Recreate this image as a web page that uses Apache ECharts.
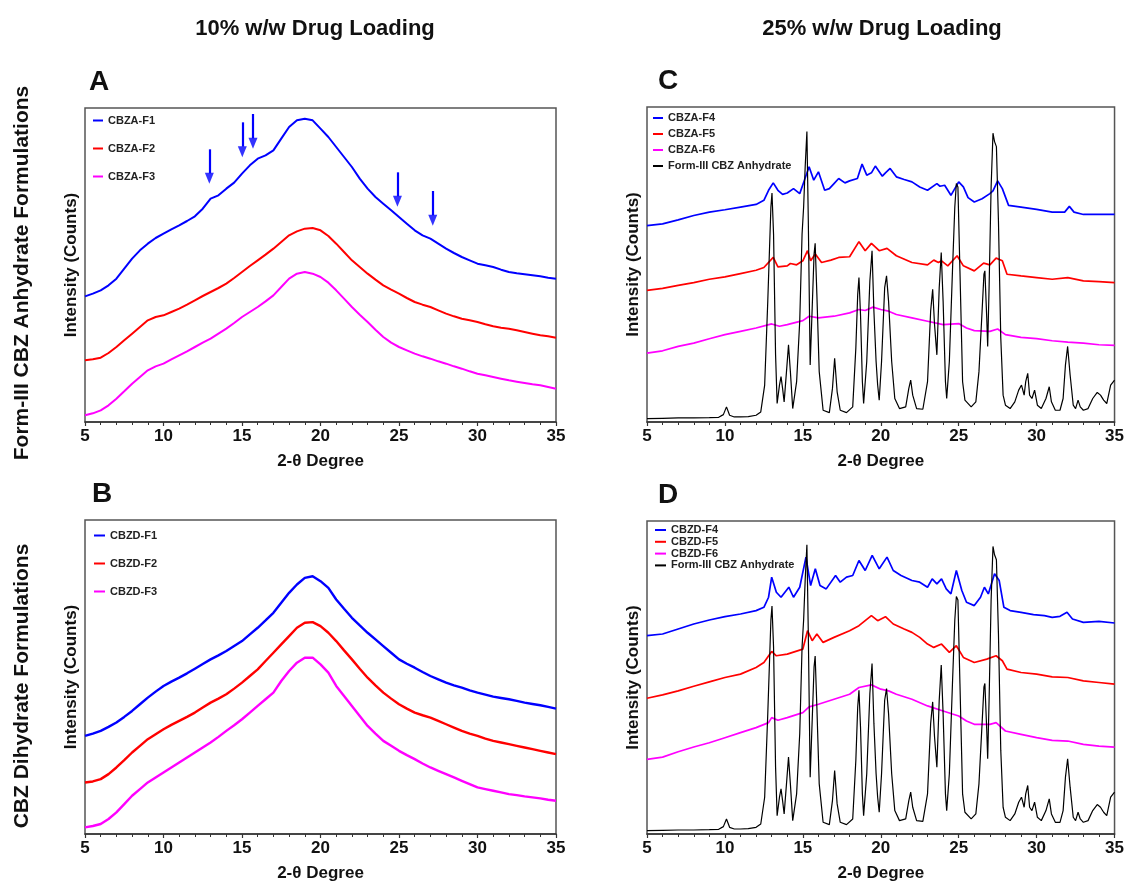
<!DOCTYPE html>
<html>
<head>
<meta charset="utf-8">
<script src="https://cdn.jsdelivr.net/npm/echarts@6/dist/echarts.min.js"></script>
<style>html,body{margin:0;padding:0;background:#fff}#c{width:1127px;height:883px}</style>
</head>
<body>
<div id="c"></div>
<script>
// ---------- DATA (2-theta degree, relative intensity counts) ----------
const xTicks = [5, 10, 15, 20, 25, 30, 35];

const A_F1 = [[5,377],[5.5,385],[6,395],[6.5,410],[7,430],[7.5,460],[8,490],[8.5,515],[9,535],[9.5,552],[10,565],[10.5,578],[11,590],[11.5,603],[12,617],[12.5,640],[13,670],[13.5,680],[14,700],[14.5,718],[15,745],[15.5,770],[16,790],[16.5,800],[17,815],[17.5,850],[18,885],[18.5,905],[19,910],[19.5,905],[20,880],[20.5,855],[21,825],[21.5,795],[22,765],[22.5,730],[23,700],[23.5,675],[24,655],[24.5,635],[25,615],[25.5,595],[26,575],[26.5,560],[27,550],[27.5,535],[28,520],[28.5,507],[29,495],[29.5,485],[30,475],[30.5,470],[31,465],[31.5,457],[32,450],[32.5,446],[33,443],[33.5,440],[34,437],[34.5,433],[35,430]];
const A_F2 = [[5,185],[5.5,188],[6,193],[6.5,207],[7,225],[7.5,245],[8,265],[8.5,285],[9,305],[9.5,315],[10,320],[10.5,330],[11,340],[11.5,352],[12,365],[12.5,378],[13,390],[13.5,402],[14,415],[14.5,432],[15,450],[15.5,468],[16,485],[16.5,502],[17,520],[17.5,540],[18,560],[18.5,572],[19,580],[19.5,582],[20,575],[20.5,558],[21,535],[21.5,510],[22,485],[22.5,465],[23,445],[23.5,427],[24,410],[24.5,397],[25,385],[25.5,372],[26,360],[26.5,352],[27,345],[27.5,335],[28,325],[28.5,317],[29,310],[29.5,305],[30,300],[30.5,293],[31,287],[31.5,283],[32,280],[32.5,275],[33,270],[33.5,265],[34,260],[34.5,257],[35,253]];
const A_F3 = [[5,20],[5.5,26],[6,35],[6.5,50],[7,70],[7.5,92],[8,115],[8.5,135],[9,155],[9.5,167],[10,175],[10.5,188],[11,200],[11.5,212],[12,225],[12.5,238],[13,250],[13.5,265],[14,280],[14.5,297],[15,315],[15.5,330],[16,345],[16.5,362],[17,380],[17.5,405],[18,430],[18.5,445],[19,450],[19.5,445],[20,435],[20.5,418],[21,395],[21.5,370],[22,345],[22.5,322],[23,300],[23.5,277],[24,255],[24.5,238],[25,225],[25.5,215],[26,205],[26.5,197],[27,190],[27.5,182],[28,175],[28.5,167],[29,160],[29.5,152],[30,145],[30.5,140],[31,135],[31.5,130],[32,125],[32.5,121],[33,117],[33.5,113],[34,110],[34.5,105],[35,100]];

// arrows marking crystalline traces in CBZA-F1 (x, top of shaft, arrow tip)
const arrowX = [12.92, 15.02, 15.7, 24.9, 27.15];
const arrowTop = [818, 899, 924, 749, 693];
const arrowTip = [716, 796, 821, 647, 590];

const B_F1 = [[5,295],[5.5,302],[6,310],[6.5,322],[7,335],[7.5,352],[8,370],[8.5,390],[9,410],[9.5,428],[10,445],[10.5,458],[11,470],[11.5,483],[12,497],[12.5,511],[13,525],[13.5,537],[14,550],[14.5,565],[15,580],[15.5,600],[16,620],[16.5,642],[17,665],[17.5,695],[18,725],[18.5,750],[19,770],[19.5,775],[20,760],[20.5,740],[21,705],[21.5,677],[22,650],[22.5,627],[23,605],[23.5,585],[24,565],[24.5,545],[25,525],[25.5,512],[26,500],[26.5,487],[27,475],[27.5,465],[28,455],[28.5,447],[29,440],[29.5,432],[30,425],[30.5,419],[31,413],[31.5,409],[32,405],[32.5,400],[33,395],[33.5,391],[34,387],[34.5,382],[35,377]];
const B_F2 = [[5,155],[5.5,158],[6,165],[6.5,180],[7,200],[7.5,222],[8,245],[8.5,265],[9,285],[9.5,300],[10,315],[10.5,328],[11,340],[11.5,352],[12,365],[12.5,380],[13,395],[13.5,407],[14,420],[14.5,437],[15,455],[15.5,475],[16,495],[16.5,520],[17,545],[17.5,570],[18,595],[18.5,620],[19,635],[19.5,637],[20,625],[20.5,605],[21,580],[21.5,552],[22,525],[22.5,497],[23,470],[23.5,447],[24,425],[24.5,407],[25,390],[25.5,377],[26,365],[26.5,357],[27,350],[27.5,340],[28,330],[28.5,320],[29,310],[29.5,302],[30,295],[30.5,287],[31,280],[31.5,275],[32,270],[32.5,265],[33,260],[33.5,255],[34,250],[34.5,245],[35,240]];
const B_F3 = [[5,20],[5.5,24],[6,30],[6.5,45],[7,65],[7.5,90],[8,115],[8.5,135],[9,155],[9.5,170],[10,185],[10.5,200],[11,215],[11.5,230],[12,245],[12.5,260],[13,275],[13.5,292],[14,310],[14.5,327],[15,345],[15.5,365],[16,385],[16.5,405],[17,425],[17.5,460],[18,490],[18.5,515],[19,530],[19.5,530],[20,510],[20.5,485],[21,445],[21.5,415],[22,385],[22.5,355],[23,325],[23.5,302],[24,280],[24.5,265],[25,250],[25.5,237],[26,225],[26.5,212],[27,200],[27.5,190],[28,180],[28.5,170],[29,160],[29.5,150],[30,140],[30.5,135],[31,130],[31.5,125],[32,120],[32.5,117],[33,113],[33.5,110],[34,107],[34.5,103],[35,100]];

const C_F4 = [[5,585],[6,590],[7,602],[8,615],[9,625],[10,632],[11,640],[12,648],[12.5,660],[12.8,690],[13.1,712],[13.4,690],[13.7,678],[14,682],[14.4,695],[14.8,680],[15.1,720],[15.4,760],[15.7,720],[16,745],[16.4,690],[16.7,695],[17,710],[17.3,725],[17.7,712],[18,718],[18.5,725],[18.8,768],[19.1,735],[19.4,742],[19.65,762],[20.1,732],[20.3,742],[20.6,755],[21,730],[21.5,722],[22,715],[22.5,700],[23,690],[23.6,710],[23.8,702],[24.1,705],[24.5,675],[25,715],[25.3,700],[25.6,668],[26,655],[26.5,665],[27,680],[27.2,688],[27.5,718],[27.8,695],[28.2,645],[29,640],[30,633],[31,625],[31.8,625],[32.1,642],[32.4,625],[33,618],[34,618],[35,618]];
const C_F5 = [[5,392],[6,398],[7,407],[8,415],[9,425],[10,432],[11,442],[12,452],[12.5,460],[13.1,490],[13.4,462],[14,465],[14.2,472],[14.6,468],[15,480],[15.3,510],[15.5,480],[15.8,500],[16.2,475],[16.8,482],[17.3,490],[18,492],[18.6,537],[19,510],[19.4,532],[19.9,510],[20.4,517],[21,495],[22,475],[23,468],[23.4,482],[23.7,475],[23.9,480],[24.3,465],[24.9,495],[25.3,465],[26,450],[26.6,473],[27,468],[27.4,488],[27.8,480],[28.1,440],[29,435],[30,430],[31,425],[32,430],[33,420],[34,418],[35,415]];
const C_F6 = [[5,205],[6,212],[7,225],[8,235],[9,248],[10,260],[11,270],[12,280],[13,292],[13.5,285],[14,290],[15,302],[15.4,315],[16,310],[17,315],[18,325],[18.6,335],[19,332],[19.5,342],[20,335],[20.5,330],[21,320],[22,310],[23,300],[24,290],[25,293],[25.5,280],[26,272],[27,270],[27.5,277],[28,260],[29,252],[30,248],[31,242],[32,238],[33,235],[34,230],[35,228]];

// Form-III CBZ anhydrate reference pattern (same sample in C and D)
const FormIII = [[5,10],[6,11],[7,12],[8,12],[9,13],[9.6,14],[9.9,22],[10.1,45],[10.3,20],[10.6,15],[11,15],[11.5,16],[12,20],[12.3,30],[12.55,110],[12.75,360],[12.95,640],[13.02,682],[13.12,560],[13.25,200],[13.35,55],[13.5,110],[13.6,135],[13.7,100],[13.8,60],[13.95,150],[14.08,230],[14.2,150],[14.35,40],[14.45,35],[14.6,120],[14.8,300],[14.95,560],[15.05,640],[15.15,760],[15.26,865],[15.35,600],[15.47,170],[15.6,340],[15.72,500],[15.79,532],[15.9,380],[16.05,150],[16.3,35],[16.7,28],[16.9,100],[17.04,190],[17.2,90],[17.4,35],[17.8,28],[18.2,45],[18.4,220],[18.52,380],[18.6,430],[18.7,320],[18.82,120],[18.9,55],[19.1,180],[19.3,420],[19.44,510],[19.56,330],[19.7,180],[19.8,110],[19.9,65],[20.05,180],[20.25,400],[20.37,435],[20.5,360],[20.7,180],[20.9,70],[21.2,40],[21.6,45],[21.8,100],[21.92,125],[22.05,80],[22.3,40],[22.7,38],[23.0,120],[23.2,330],[23.33,395],[23.45,290],[23.6,200],[23.75,400],[23.88,505],[24.0,360],[24.15,120],[24.23,70],[24.4,180],[24.6,450],[24.75,640],[24.85,710],[24.95,700],[25.08,450],[25.25,120],[25.4,65],[25.8,45],[26.1,60],[26.3,150],[26.5,330],[26.62,440],[26.68,450],[26.8,310],[26.86,225],[26.95,400],[27.08,700],[27.2,860],[27.3,835],[27.42,820],[27.55,600],[27.7,250],[27.85,80],[28.0,50],[28.3,40],[28.6,60],[28.85,95],[29.03,110],[29.2,80],[29.3,120],[29.43,145],[29.55,80],[29.7,70],[29.87,95],[30.05,50],[30.3,40],[30.6,70],[30.81,105],[30.95,60],[31.2,35],[31.5,35],[31.7,70],[31.85,170],[31.99,225],[32.15,140],[32.35,50],[32.5,40],[32.66,65],[32.8,45],[33.0,35],[33.3,40],[33.6,70],[33.89,88],[34.1,80],[34.3,65],[34.5,55],[34.75,110],[35,125]];

const D_F4 = [[5,593],[6,598],[7,613],[8,628],[9,640],[10,650],[11,658],[12,668],[12.5,678],[12.8,708],[13.0,768],[13.3,723],[13.6,708],[14.1,738],[14.4,708],[14.8,738],[15.2,828],[15.5,743],[15.8,793],[16.1,743],[16.5,733],[17.1,773],[17.4,753],[17.8,768],[18.2,773],[18.6,818],[19.0,788],[19.45,833],[19.9,793],[20.4,828],[20.8,788],[21.3,773],[22.0,758],[22.5,753],[23.0,738],[23.3,763],[23.6,748],[23.9,763],[24.2,733],[24.5,718],[24.85,788],[25.2,728],[25.5,693],[26.0,683],[26.4,708],[26.65,738],[26.9,718],[27.3,778],[27.6,758],[27.9,678],[28.3,668],[29,663],[29.8,656],[30.5,653],[31.0,648],[31.5,651],[31.95,663],[32.3,643],[33,633],[34,636],[35,631]];
const D_F5 = [[5,406],[6,416],[7,428],[8,442],[9,455],[10,468],[11,478],[12,498],[12.5,513],[13.0,546],[13.3,533],[14,538],[15.0,553],[15.3,608],[15.6,578],[15.9,598],[16.3,573],[17,588],[18,608],[18.6,623],[19.4,653],[19.8,638],[20.3,650],[20.8,628],[21.5,613],[22,603],[22.5,588],[23,568],[23.4,558],[23.9,568],[24.4,543],[24.85,563],[25.3,528],[26,513],[26.8,523],[27.4,533],[27.8,518],[28.1,493],[29,483],[30,478],[31,470],[32,468],[33,458],[34,453],[35,448]];
const D_F6 = [[5,223],[6,230],[7,246],[8,260],[9,273],[10,288],[11,303],[12,318],[12.8,333],[13.0,348],[13.4,340],[14,348],[15,363],[15.4,380],[16,388],[17,403],[18,418],[18.6,438],[19.4,446],[20,433],[20.5,428],[21,418],[22,403],[23,383],[24,368],[25,353],[25.5,338],[26,328],[27,328],[27.4,333],[28,308],[29,298],[30,288],[31,280],[32,278],[33,268],[34,263],[35,260]];

const yMax = [942, 938, 944, 936]; // A, C, B, D

// ---------- CHART ----------
const FONT = 'Arial, "Liberation Sans", sans-serif';
const BLUE = '#0000ff', RED = '#ff0000', MAG = '#ff00ff', BLK = '#000000';
const grids = [
  {left: 85, top: 108, width: 471, height: 314},
  {left: 647, top: 107, width: 470, height: 315},
  {left: 85, top: 520, width: 471, height: 315},
  {left: 647, top: 521, width: 470, height: 313}
];
const chart = echarts.init(document.getElementById('c'), null, {renderer: 'canvas'});

const xAxes = grids.map((g, i) => ({
  type: 'value', gridIndex: i, min: xTicks[0], max: xTicks[xTicks.length - 1], interval: 5,
  axisLine: {show: true, lineStyle: {color: '#333', width: 1.5}},
  axisTick: {show: true, inside: false, length: 4, lineStyle: {color: '#333', width: 1.2}},
  minorTick: {show: true, splitNumber: 5, length: 3, lineStyle: {color: '#333', width: 1}},
  splitLine: {show: false},
  axisLabel: {fontSize: 17, fontWeight: 'bold', color: '#111', fontFamily: FONT, margin: 6},
  name: '2-\u03b8 Degree', nameLocation: 'middle', nameGap: 31,
  nameTextStyle: {fontSize: 17, fontWeight: 'bold', color: '#111', fontFamily: FONT}
}));
const yAxes = grids.map((g, i) => ({
  type: 'value', gridIndex: i, min: 0, max: yMax[i],
  axisLine: {show: false}, axisTick: {show: false}, axisLabel: {show: false}, splitLine: {show: false},
  name: 'Intensity (Counts)', nameLocation: 'middle', nameGap: 5,
  nameTextStyle: {fontSize: 17, fontWeight: 'bold', color: '#111', fontFamily: FONT}
}));

function line(name, data, color, gi, width, z) {
  return {
    type: 'line', name, data, xAxisIndex: gi, yAxisIndex: gi,
    showSymbol: false, symbol: 'none', silent: true, z: z || 2,
    lineStyle: {color, width}, itemStyle: {color}, animation: false
  };
}

// arrow geometry: shaft ends a little above the tip, head drawn as a scatter triangle
const headUnits = 15; // half head height in A's intensity units (~5 px)
const sA1 = line('CBZA-F1', A_F1, BLUE, 0, 2);
sA1.markLine = {
  silent: true, animation: false, symbol: ['none', 'none'],
  label: {show: false}, lineStyle: {color: BLUE, width: 2.2, type: 'solid'},
  data: arrowX.map((x, i) => [{coord: [x, arrowTop[i]]}, {coord: [x, arrowTip[i] + 2 * headUnits]}])
};
const arrowHeads = {
  type: 'scatter', xAxisIndex: 0, yAxisIndex: 0, silent: true, animation: false, z: 5,
  symbol: 'path://M0,0L10,0L5,11Z', symbolSize: [9, 11], symbolKeepAspect: false,
  itemStyle: {color: BLUE},
  data: arrowX.map((x, i) => [x, arrowTip[i] + headUnits])
};

const series = [
  sA1,
  line('CBZA-F2', A_F2, RED, 0, 2),
  line('CBZA-F3', A_F3, MAG, 0, 2),
  arrowHeads,
  line('CBZA-F4', C_F4, BLUE, 1, 1.7),
  line('CBZA-F5', C_F5, RED, 1, 1.7),
  line('CBZA-F6', C_F6, MAG, 1, 1.7),
  line('Form-III CBZ Anhydrate', FormIII, BLK, 1, 1.2, 3),
  line('CBZD-F1', B_F1, BLUE, 2, 2.4),
  line('CBZD-F2', B_F2, RED, 2, 2.4),
  line('CBZD-F3', B_F3, MAG, 2, 2.4),
  line('CBZD-F4', D_F4, BLUE, 3, 1.7),
  line('CBZD-F5', D_F5, RED, 3, 1.7),
  line('CBZD-F6', D_F6, MAG, 3, 1.7),
  line('Form-III CBZ Anhydrate', FormIII, BLK, 3, 1.2, 3)
];

function legend(names, left, top, gap, lh, iw) {
  return {
    data: names, left, top, orient: 'vertical', itemGap: gap, padding: 0,
    icon: 'rect', itemWidth: iw, itemHeight: 2, selectedMode: false,
    textStyle: {fontSize: 11, fontWeight: 'bold', color: '#222', fontFamily: FONT, lineHeight: lh, padding: [0, 0, 0, 0]}
  };
}

function txt(text, x, y, size, rot) {
  return {
    type: 'text', x, y, rotation: rot || 0, silent: true,
    style: {text, fontSize: size, fontWeight: 'bold', fontFamily: FONT, fill: '#111', textAlign: 'center', textVerticalAlign: 'middle'}
  };
}

chart.setOption({
  animation: false,
  backgroundColor: '#fff',
  grid: grids.map(g => Object.assign({show: true, borderColor: '#555', borderWidth: 1.5, backgroundColor: 'transparent', containLabel: false}, g)),
  xAxis: xAxes,
  yAxis: yAxes,
  legend: [
    legend(['CBZA-F1', 'CBZA-F2', 'CBZA-F3'], 93, 114.5, 16, 12, 10),
    legend(['CBZA-F4', 'CBZA-F5', 'CBZA-F6', 'Form-III CBZ Anhydrate'], 653, 112, 4, 12, 10),
    legend(['CBZD-F1', 'CBZD-F2', 'CBZD-F3'], 94, 529.5, 16, 12, 11),
    legend(['CBZD-F4', 'CBZD-F5', 'CBZD-F6', 'Form-III CBZ Anhydrate'], 655, 524.5, 0.8, 11, 11)
  ],
  graphic: [
    txt('10% w/w Drug Loading', 315, 29, 22),
    txt('25% w/w Drug Loading', 882, 29, 22),
    txt('A', 99, 82, 28),
    txt('C', 668, 81, 28),
    txt('B', 102, 494, 28),
    txt('D', 668, 495, 28),
    txt('Form-III CBZ Anhydrate Formulations', 22, 273, 21, Math.PI / 2),
    txt('CBZ Dihydrate Formulations', 22, 686, 21, Math.PI / 2)
  ],
  series
});
</script>
</body>
</html>
